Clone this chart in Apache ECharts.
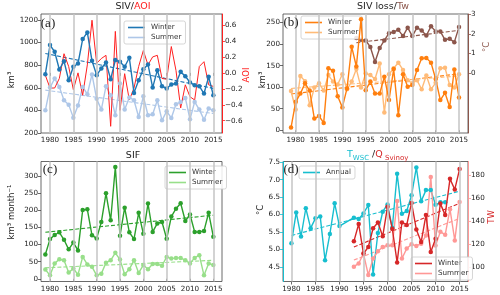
<!DOCTYPE html>
<html><head><meta charset="utf-8">
<script src="https://cdn.jsdelivr.net/npm/echarts@6/dist/echarts.min.js"></script>
<style>html,body{margin:0;padding:0;background:#fff}#c{width:500px;height:295px}</style>
</head><body><div id="c"></div>
<script>
// ---------- data ----------
const years = [1979,1980,1981,1982,1983,1984,1985,1986,1987,1988,1989,1990,1991,1992,1993,1994,1995,1996,1997,1998,1999,2000,2001,2002,2003,2004,2005,2006,2007,2008,2009,2010,2011,2012,2013,2014,2015];
const yearsQ = [1993,1994,1995,1996,1997,1998,1999,2000,2001,2002,2003,2004,2005,2006,2007,2008,2009,2010,2011,2012,2013,2014,2015];
const yearsT = [1980,1981,1982,1983,1984,1985,1986,1987,1988,1989,1990,1993,1994,1995,1996,1997,1998,1999,2000,2001,2002,2003,2004,2005,2006,2007,2008,2009,2010,2011,2012];
const xTicks = [1980,1985,1990,1995,2000,2005,2010,2015];

// (a) SIV / AOI
const sivWinter = [720,978,919,762,836,667,786,815,1031,1090,839,712,771,824,676,845,830,786,866,555,667,765,807,602,756,614,593,629,638,741,703,647,623,614,549,697,534];
const sivSummer = [401,602,682,608,490,451,336,443,608,543,718,502,407,614,534,357,638,407,514,490,342,525,357,366,490,312,392,333,454,475,510,321,475,407,318,416,401];
const aoi = [-0.03,-0.19,-0.19,-0.07,0.24,0.08,-0.21,0.0,-0.28,0.10,0.66,0.12,0.18,0.22,-0.67,0.52,-0.47,-0.01,-0.34,-0.19,0.08,0.28,0.10,0.20,0.22,-0.07,-0.08,0.33,0.03,-0.44,-0.15,-0.30,-0.34,0.08,0.14,-0.15,-0.17];
const sivWinterTrend = [904, 595];
const sivSummerTrend = [579, 372];
// (b) SIV loss / Tw
const lossWinter = [6,66,85,109,92,27,33,17,144,138,79,53,97,194,148,258,93,113,85,85,124,70,142,35,130,101,105,140,167,168,157,119,70,87,54,141,76];
const lossSummer = [91,48,126,114,58,99,109,92,128,113,106,130,95,113,142,99,132,128,119,155,41,130,144,157,140,116,109,116,95,127,95,110,144,145,105,99,130];
const tw = [1.79,1.70,1.67,1.33,0.56,1.28,1.67,2.04,2.10,2.21,1.89,2.32,1.89,2.32,2.18,1.92,2.39,2.13,2.13,1.70,1.75,1.58,2.35];
const lossWinterTrend = [84, 131];
const lossSummerTrend = [97, 126];
const twTrend = [1.55, 2.18];
// (c) SIF
const sifWinter = [71,116,128,136,114,86,106,83,201,203,127,118,166,250,171,327,126,208,136,116,193,132,220,137,162,166,117,182,205,221,169,188,137,137,140,193,123];
const sifSummer = [27,10,45,57,54,18,30,12,64,42,35,10,15,47,54,76,56,13,28,54,17,40,28,43,43,38,64,59,61,61,54,45,61,69,10,45,40];
const sifWinterTrend = [136, 186];
const sifSummerTrend = [32, 54];
// (d) Twsc / Q Svinoy
const tWsc = [5.18,6.06,5.37,6.18,5.61,5.89,5.94,4.69,5.44,6.32,5.67,5.91,5.87,6.03,6.27,4.28,5.47,6.08,6.29,5.62,7.17,6.02,6.10,6.55,7.35,6.38,6.70,6.70,6.28,6.35,6.35];
const qWinter = [122.6,137.7,112,117.7,134,139,127,152.6,133.4,104.3,139,136.9,156,132.9,122,145.4,113.4,124.9,155.4,145.4,176.9,167.7,185.4];
const qSummer = [100.6,103.4,112,93.4,107.7,114,117.7,119.1,119.1,157.7,107.7,116.3,120,118.6,120.6,127.7,178.6,119,131,128.3,150.6,123.4,156.9];
const tWscTrend = [5.40, 6.67];
const qWinterTrend = [117.7, 155.7];
const qSummerTrend = [106.3, 142.6];

// tick labels
const ticksA = [200,400,600,800,1000,1200];
const ticksAOI = [-0.6,-0.4,-0.2,0.0,0.2,0.4,0.6];
const ticksB = [0,50,100,150,200,250];
const ticksTw = [0,1,2,3];
const ticksC = [0,50,100,150,200,250,300];
const ticksD = [4.5,5.0,5.5,6.0,6.5,7.0,7.5];
const ticksQ = [100,120,140,160,180];

// ---------- styling ----------
const C = {blue:'#1f77b4', lblue:'#aec7e8', orange:'#ff7f0e', lorange:'#ffbb78', green:'#2ca02c', lgreen:'#98df8a',
  red:'#d62728', lred:'#ff9896', brown:'#8c564b', cyan:'#17becf', aoi:'#ff2020'};
const FF = '"DejaVu Sans", sans-serif';
const TICK_FS = 7.2;

const grids = [
  {left:41, top:14, width:181, height:119},
  {left:283, top:14, width:185, height:119},
  {left:41, top:161.5, width:181, height:120},
  {left:283, top:161.5, width:185, height:120}
].map(g => Object.assign(g, {show:true, borderColor:'#444', borderWidth:0.8, backgroundColor:'transparent', containLabel:false}));

const plainFmt = v => String(v);
function xAx(i, min, max) {
  return {type:'value', gridIndex:i, min, max,
    axisLine:{show:false}, splitLine:{show:false},
    axisTick:{show:true, length:3, customValues:xTicks, lineStyle:{color:'#444', width:0.8}},
    axisLabel:{customValues:xTicks, fontSize:TICK_FS, fontFamily:FF, color:'#222', margin:4, formatter:plainFmt}};
}
function yAx(i, min, max, ticks, pos, color, fmt) {
  return {type:'value', gridIndex:i, min, max, position:pos,
    axisLine:{show:!!color, onZero:false, lineStyle:{color:color||'#444', width:1}},
    splitLine:{show:false},
    axisTick:{show:true, length:3, customValues:ticks, lineStyle:{color:color||'#444', width:0.8}},
    axisLabel:{customValues:ticks, fontSize:TICK_FS, fontFamily:FF, color:'#222', margin:3, formatter:fmt||plainFmt}};
}
const minusFmt = v => (v < 0 ? '\u2212' : '') + Math.abs(v).toFixed(1);

const xAxis = [xAx(0,1978.07,2016.86), xAx(1,1977.28,2016.93), xAx(2,1978.07,2016.86), xAx(3,1978.25,2016.75)];
const yAxis = [
  yAx(0,200,1253,ticksA,'left'),
  yAx(0,-0.754,0.738,ticksAOI,'right',C.aoi,minusFmt),
  yAx(1,-6.5,270,ticksB,'left'),
  yAx(1,-3.07,3.02,ticksTw,'right',C.brown),
  yAx(2,-8,343,ticksC,'left'),
  yAx(3,4.08,7.52,ticksD,'left',C.cyan,v=>v.toFixed(1)),
  yAx(3,87.7,192,ticksQ,'right',C.lred)
];

function pairs(xs, ys){ return xs.map((x,k)=>[x, ys[k]]); }
function dataLine(name, xs, ys, color, xi, yi, opt) {
  opt = opt || {};
  return {type:'line', name, xAxisIndex:xi, yAxisIndex:yi, data:pairs(xs,ys),
    symbol: opt.noSym ? 'none' : 'circle', symbolSize: opt.size || 4.5, showSymbol: !opt.noSym,
    lineStyle:{color, width: opt.w || 1.4}, itemStyle:{color}, z: opt.z || 3, silent:true};
}
function trend(xs, vals, color, xi, yi) {
  return {type:'line', xAxisIndex:xi, yAxisIndex:yi, data:pairs(xs, vals), symbol:'none',
    lineStyle:{color, width:1.1, type:[4,2]}, z:2, silent:true};
}
function vgrid(xi, yi) {
  return {type:'line', xAxisIndex:xi, yAxisIndex:yi, data:[], z:1, silent:true,
    markLine:{silent:true, symbol:'none', label:{show:false}, animation:false,
      lineStyle:{color:'#c4c4c4', width:1.5, type:'solid'}, data: xTicks.map(v=>({xAxis:v}))}};
}
const tEnds = [1979, 2015];
const series = [
  vgrid(0,0), vgrid(1,2), vgrid(2,4), vgrid(3,5),
  // (a)
  dataLine('a Winter', years, sivWinter, C.blue, 0, 0, {z:4}),
  dataLine('a Summer', years, sivSummer, C.lblue, 0, 0),
  dataLine('a AOI', years, aoi, C.aoi, 0, 1, {noSym:true, w:1}),
  trend(tEnds, sivWinterTrend, C.blue, 0, 0),
  trend(tEnds, sivSummerTrend, C.lblue, 0, 0),
  // (b)
  dataLine('b Winter', years, lossWinter, C.orange, 1, 2, {z:4}),
  dataLine('b Summer', years, lossSummer, C.lorange, 1, 2),
  dataLine('b Tw', yearsQ, tw, C.brown, 1, 3),
  trend(tEnds, lossWinterTrend, C.orange, 1, 2),
  trend(tEnds, lossSummerTrend, C.lorange, 1, 2),
  trend([1993,2015], twTrend, C.brown, 1, 3),
  // (c)
  dataLine('c Winter', years, sifWinter, C.green, 2, 4, {z:4}),
  dataLine('c Summer', years, sifSummer, C.lgreen, 2, 4),
  trend(tEnds, sifWinterTrend, C.green, 2, 4),
  trend(tEnds, sifSummerTrend, C.lgreen, 2, 4),
  // (d)
  dataLine('d Annual', yearsT, tWsc, C.cyan, 3, 5),
  dataLine('d Winter', yearsQ, qWinter, C.red, 3, 6, {z:4}),
  dataLine('d Summer', yearsQ, qSummer, C.lred, 3, 6),
  trend([1980,2015], tWscTrend, C.cyan, 3, 5),
  trend([1993,2015], qWinterTrend, C.red, 3, 6),
  trend([1993,2015], qSummerTrend, C.lred, 3, 6)
];

function leg(names, left, top) {
  return {data:names, left, top, orient:'vertical', icon:'rect', itemWidth:17, itemHeight:1.6, itemGap:3,
    padding:[3,4,3,4], backgroundColor:'rgba(255,255,255,0.85)', borderColor:'#cccccc', borderWidth:0.8, borderRadius:2,
    selectedMode:false, formatter: n => n.slice(2), textStyle:{fontSize:7.2, fontFamily:FF, color:'#333', padding:[0,0,0,1]}};
}
const legend = [
  leg(['a Winter','a Summer'], 124, 21),
  leg(['b Winter','b Summer'], 301, 16),
  leg(['c Winter','c Summer'], 165, 166),
  leg(['d Annual'], 299, 166),
  leg(['d Winter','d Summer'], 411, 257)
];

function txt(x, y, text, o) {
  o = o || {};
  return {type:'text', x, y, rotation:o.rot||0, silent:true, z:100,
    style:{text, fill:o.color||'#222', fontSize:o.fs||9, fontFamily:o.ff||FF, align:o.align||'center', verticalAlign:'middle', rich:o.rich}};
}
const SERIF = '"Liberation Serif", "DejaVu Serif", serif';
const graphic = [
  txt(133, 6.5, '{k|SIV/}{r|AOI}', {rich:{k:{fill:'#222',fontSize:9.5,fontFamily:FF}, r:{fill:C.aoi,fontSize:9.5,fontFamily:FF}}}),
  txt(383, 6.5, '{k|SIV loss/}{r|Tw}', {rich:{k:{fill:'#222',fontSize:9.5,fontFamily:FF}, r:{fill:C.brown,fontSize:9.5,fontFamily:FF}}}),
  txt(133, 156, 'SIF', {fs:9.5}),
  txt(347, 156, '{t|T}{ts|WSC}{k| /}{q|Q}{qs| Svinoy}', {align:'left', rich:{
    t:{fill:C.cyan,fontSize:9.5,fontFamily:FF,lineHeight:12,verticalAlign:'top'},
    ts:{fill:C.cyan,fontSize:7,fontFamily:FF,lineHeight:12,verticalAlign:'bottom'},
    k:{fill:'#222',fontSize:9.5,fontFamily:FF,lineHeight:12,verticalAlign:'top'},
    q:{fill:C.red,fontSize:9.5,fontFamily:FF,lineHeight:12,verticalAlign:'top'},
    qs:{fill:C.red,fontSize:7,fontFamily:FF,lineHeight:12,verticalAlign:'bottom'}}}),
  txt(48, 24, '(a)', {fs:13, ff:SERIF}),
  txt(291, 23, '(b)', {fs:13, ff:SERIF}),
  txt(50, 170, '(c)', {fs:13, ff:SERIF}),
  txt(291, 170, '(d)', {fs:13, ff:SERIF}),
  txt(12, 80, 'km³', {fs:8.5, rot:Math.PI/2}),
  txt(247, 75, 'AOI', {fs:8.5, rot:Math.PI/2, color:C.aoi}),
  txt(263, 80, 'km³', {fs:8.5, rot:Math.PI/2}),
  txt(487, 47, '°C', {fs:8.5, rot:Math.PI/2, color:C.brown}),
  txt(12, 212, 'km³ month⁻¹', {fs:8.5, rot:Math.PI/2}),
  txt(261, 210, '°C', {fs:8.5, rot:Math.PI/2}),
  txt(492, 217, 'TW', {fs:8.5, rot:Math.PI/2, color:C.red})
];

const chart = echarts.init(document.getElementById('c'), null, {renderer:'canvas'});
chart.setOption({animation:false, backgroundColor:'#fff', grid:grids, xAxis, yAxis, series, legend, graphic});
</script></body></html>
